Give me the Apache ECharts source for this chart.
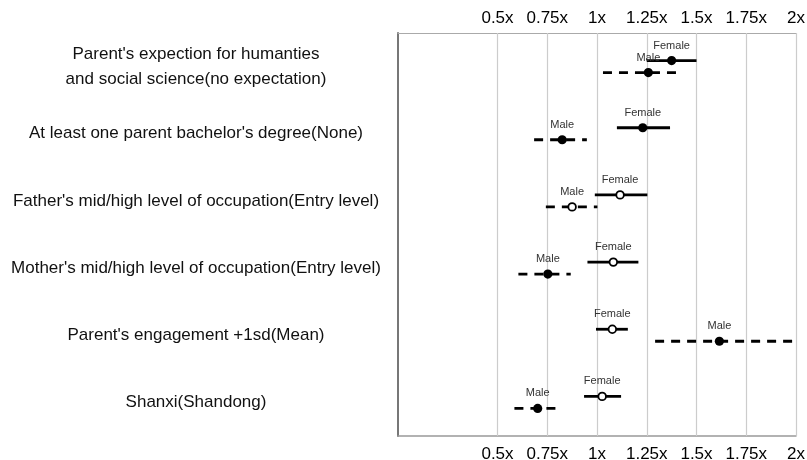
<!DOCTYPE html>
<html>
<head>
<meta charset="utf-8">
<script src="https://cdn.jsdelivr.net/npm/echarts@6/dist/echarts.min.js"></script>
<style>
  html, body { margin: 0; padding: 0; background: #fff; }
  #chart { width: 807px; height: 460px; }
</style>
</head>
<body>
<div id="chart"></div>
<script>
// Rows, top to bottom (reference category in brackets).
const ROWS = [
  "Parent's expection for humanties\nand social science(no expectation)",
  "At least one parent bachelor's degree(None)",
  "Father's mid/high level of occupation(Entry level)",
  "Mother's mid/high level of occupation(Entry level)",
  "Parent's engagement +1sd(Mean)",
  'Shanxi(Shandong)',
];

// Odds ratios with interval bounds; *_SIG marks the filled (significant) dots.
const FEMALE_EST = [1.375, 1.23, 1.116, 1.082, 1.077, 1.026];
const FEMALE_LO = [1.25, 1.10, 0.989, 0.952, 0.995, 0.935];
const FEMALE_HI = [1.50, 1.367, 1.253, 1.208, 1.155, 1.121];
const FEMALE_SIG = [1, 1, 0, 0, 0, 0];

const MALE_EST = [1.258, 0.825, 0.875, 0.753, 1.615, 0.702];
const MALE_LO = [1.03, 0.684, 0.743, 0.605, 1.292, 0.585];
const MALE_HI = [1.43, 0.949, 1.002, 0.868, 2.25, 0.82];
const MALE_SIG = [1, 1, 0, 1, 1, 1];

const TICKS = [0.5, 0.75, 1, 1.25, 1.5, 1.75, 2];

const FONT = '"Liberation Sans", Arial, Helvetica, sans-serif';

function toData(lo, est, hi, sig) {
  return ROWS.map((_, i) => [i, lo[i], est[i], hi[i], sig[i]]);
}

// One interval: a horizontal line (solid or dashed), the point, and a name above it.
function makeRenderer(name, dy, dashed) {
  return function (params, api) {
    const i = api.value(0);
    const cs = params.coordSys;
    const y = api.coord([0, i])[1] + dy;
    const x0 = Math.max(cs.x, api.coord([api.value(1), i])[0]);
    const x1 = Math.min(cs.x + cs.width, api.coord([api.value(3), i])[0]);
    const xp = api.coord([api.value(2), i])[0];
    const filled = api.value(4) === 1;
    return {
      type: 'group',
      children: [
        {
          type: 'line',
          shape: { x1: x0, y1: y, x2: x1, y2: y },
          style: { stroke: '#000', lineWidth: 2.8, lineDash: dashed ? [9, 7] : null },
        },
        {
          type: 'circle',
          shape: { cx: xp, cy: y, r: filled ? 4.6 : 3.8 },
          style: { fill: filled ? '#000' : '#fff', stroke: '#000', lineWidth: filled ? 0 : 1.8 },
        },
        {
          type: 'text',
          x: xp,
          y: y - 15,
          style: {
            text: name, fill: '#333', fontSize: 11, fontFamily: FONT,
            align: 'center', verticalAlign: 'middle',
          },
        },
      ],
    };
  };
}

const xAxisBase = {
  type: 'value',
  min: 0,
  max: 2,
  interval: 0.25,
  axisTick: { show: false },
  splitLine: { show: false },
  axisLabel: {
    color: '#000', fontSize: 17, fontFamily: FONT,
    formatter: v => (v >= 0.5 ? v + 'x' : ''),
  },
};

const chart = echarts.init(document.getElementById('chart'), null, { renderer: 'canvas' });
chart.setOption({
  animation: false,
  backgroundColor: '#fff',
  grid: { left: 398, right: 11, top: 33, bottom: 24, outerBoundsMode: 'none', containLabel: false },
  xAxis: [
    Object.assign({}, xAxisBase, {
      position: 'top',
      axisLine: { show: true, lineStyle: { color: '#aaa', width: 1.2 } },
      axisLabel: Object.assign({}, xAxisBase.axisLabel, { margin: 6 }),
    }),
    Object.assign({}, xAxisBase, {
      position: 'bottom',
      axisLine: { show: true, lineStyle: { color: '#999', width: 1.5 } },
      axisLabel: Object.assign({}, xAxisBase.axisLabel, { margin: 10 }),
    }),
  ],
  yAxis: {
    type: 'category',
    inverse: true,
    data: ROWS,
    boundaryGap: true,
    axisTick: { show: false },
    axisLine: { show: true, lineStyle: { color: '#777', width: 2 } },
    axisLabel: {
      align: 'center', margin: 202, color: '#111',
      fontSize: 17, lineHeight: 25, fontFamily: FONT,
      padding: [10, 0, 0, 0],
    },
  },
  series: [
    {
      type: 'custom',
      name: 'Female',
      xAxisIndex: 0,
      encode: { x: [1, 2, 3], y: 0 },
      data: toData(FEMALE_LO, FEMALE_EST, FEMALE_HI, FEMALE_SIG),
      renderItem: makeRenderer('Female', -6, false),
      z: 3,
      markLine: {
        silent: true,
        symbol: 'none',
        z: 1,
        label: { show: false },
        lineStyle: { color: '#ccc', type: 'solid', width: 1.2 },
        data: TICKS.map(v => ({ xAxis: v })),
      },
    },
    {
      type: 'custom',
      name: 'Male',
      xAxisIndex: 0,
      encode: { x: [1, 2, 3], y: 0 },
      data: toData(MALE_LO, MALE_EST, MALE_HI, MALE_SIG),
      renderItem: makeRenderer('Male', 6, true),
      z: 3,
    },
  ],
});
</script>
</body>
</html>
